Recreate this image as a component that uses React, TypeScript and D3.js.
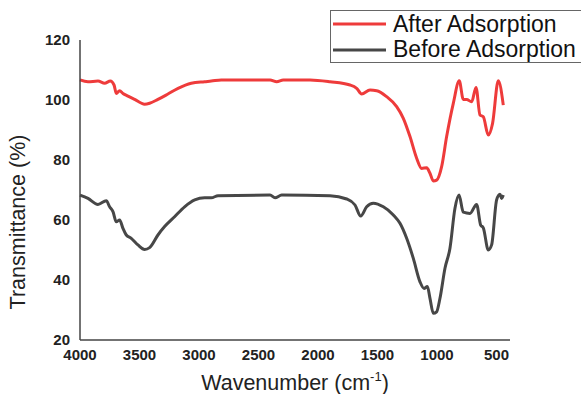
import React from "react";
import * as d3 from "d3";

const afterWave = [4000, 3933, 3849, 3793, 3745, 3714, 3695, 3667, 3639, 3597, 3541, 3457, 3415, 3345, 3261, 3176, 3065, 2953, 2897, 2813, 2403, 2347, 2292, 2067, 1899, 1731, 1675, 1633, 1563, 1507, 1423, 1339, 1283, 1227, 1171, 1129, 1087, 1059, 1031, 1003, 961, 919, 863, 813, 779, 751, 709, 672, 639, 611, 569, 533, 485, 443];
const afterValue = [106.7, 106.1, 106.3, 105.6, 106.3, 105, 102.2, 103.1, 102.2, 101.3, 100.2, 98.6, 98.9, 100.2, 102, 103.9, 105.6, 106.1, 106.3, 106.7, 106.7, 106.1, 106.7, 106.7, 106.1, 105, 103.9, 102, 103.3, 103.1, 101.1, 97.8, 93.9, 87.8, 80.6, 77.2, 77.4, 75.6, 73, 73.3, 77.8, 87.8, 98.9, 106.4, 100.2, 100.2, 99.4, 104.2, 95, 94.4, 88.3, 92.2, 106.4, 98.3];

const beforeWave = [4000, 3933, 3849, 3779, 3751, 3723, 3695, 3667, 3639, 3611, 3569, 3513, 3457, 3415, 3345, 3289, 3205, 3121, 3036, 2953, 2897, 2840, 2403, 2361, 2305, 1899, 1759, 1689, 1641, 1591, 1535, 1451, 1367, 1311, 1255, 1199, 1143, 1109, 1081, 1059, 1031, 1003, 975, 933, 891, 849, 815, 779, 723, 667, 633, 611, 569, 541, 499, 471, 457, 443];
const beforeValue = [68.3, 67.2, 65.2, 66.4, 64.4, 62.8, 59.4, 60, 57.2, 55, 53.9, 51.7, 50.2, 50.8, 55, 57.8, 61.1, 64.4, 66.7, 67.4, 67.4, 68.1, 68.3, 67.4, 68.3, 68.1, 67, 65, 61.3, 64.4, 65.6, 64.4, 61.7, 58.9, 53.9, 47.2, 39.4, 37.2, 37.8, 33.9, 28.9, 29.4, 33.9, 43.9, 50.6, 63.9, 68.3, 62.6, 62.2, 65.2, 58.3, 57.4, 50, 51.7, 66.7, 68.6, 67.2, 68.3];

const xTicks = [4000, 3500, 3000, 2500, 2000, 1500, 1000, 500];
const yTicks = [20, 40, 60, 80, 100, 120];
const seriesNames = ["After Adsorption", "Before Adsorption"];
const seriesColors = ["#ee3b3b", "#474747"];

export default function App() {
  const W = 581, H = 394;
  const x = d3.scaleLinear().domain([4000, 400]).range([80, 508.4]);
  const y = d3.scaleLinear().domain([20, 120]).range([340, 40]);
  const line = d3
    .line<[number, number]>()
    .x((d) => x(d[0]))
    .y((d) => y(d[1]))
    .curve(d3.curveMonotoneX);
  const after = afterWave.map((w, i) => [w, afterValue[i]] as [number, number]);
  const before = beforeWave.map((w, i) => [w, beforeValue[i]] as [number, number]);
  const font = "Liberation Sans, Arial, sans-serif";

  return (
    <svg width={W} height={H} style={{ position: "absolute", left: 0, top: 0 }} fontFamily={font}>
      <rect width={W} height={H} fill="#fff" />
      <path d={line(before) || ""} fill="none" stroke={seriesColors[1]} strokeWidth={3} strokeLinejoin="round" />
      <path d={line(after) || ""} fill="none" stroke={seriesColors[0]} strokeWidth={3} strokeLinejoin="round" />
      <line x1={80} x2={80} y1={y(120)} y2={y(20)} stroke="#444" strokeWidth={1.5} />
      <line x1={80} x2={510} y1={y(20)} y2={y(20)} stroke="#444" strokeWidth={1.5} />
      {yTicks.map((t) => (
        <text key={t} x={70} y={y(t)} dy="0.36em" textAnchor="end" fontSize={15} fontWeight="bold" fill="#222">
          {t}
        </text>
      ))}
      {xTicks.map((t) => (
        <text key={t} x={x(t)} y={360} textAnchor="middle" fontSize={15} fontWeight="bold" fill="#222">
          {t}
        </text>
      ))}
      <text x={295} y={390} textAnchor="middle" fontSize={21.5} fill="#222">
        Wavenumber (cm
        <tspan fontSize={13} dy={-9}>-1</tspan>
        <tspan dy={9}>)</tspan>
      </text>
      <text transform="translate(25,222) rotate(-90)" textAnchor="middle" fontSize={21.5} fill="#222">
        Transmittance (%)
      </text>
      <rect x={330.5} y={10.5} width={260} height={52} fill="#fff" stroke="#666" strokeWidth={1} />
      {seriesNames.map((n, i) => (
        <g key={n}>
          <line x1={333} x2={386} y1={24 + i * 26} y2={24 + i * 26} stroke={seriesColors[i]} strokeWidth={3} />
          <text x={393} y={32 + i * 25} fontSize={23} fill="#111">
            {n}
          </text>
        </g>
      ))}
    </svg>
  );
}
